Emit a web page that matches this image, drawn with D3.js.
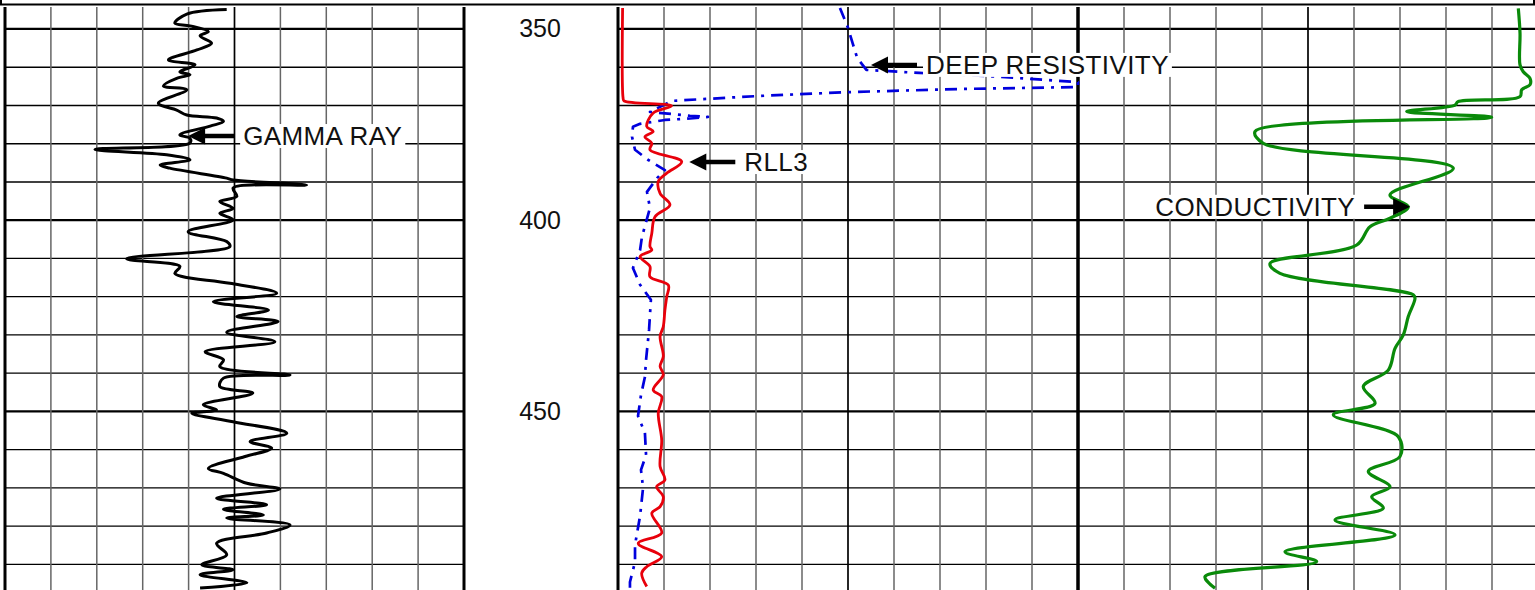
<!DOCTYPE html>
<html>
<head>
<meta charset="utf-8">
<script src="https://cdn.jsdelivr.net/npm/d3@7"></script>
<style>
  body { margin: 0; background: #fff; }
  svg { display: block; font-family: "Liberation Sans", Arial, sans-serif; }
</style>
</head>
<body>
<svg id="logSvg" width="1535" height="590"></svg>
<script>
// depth labels shown in the depth track
var depthLabels = [350, 400, 450];

// gamma ray (API), track 1
var grDepth = [344.9, 346.1, 348.5, 349.2, 350.7, 351.8, 353.7, 355.5, 358.1, 359.4, 361.2, 362.0, 362.9, 364.9, 365.9, 369.4, 371.2, 372.5, 373.3, 374.2, 375.4, 377.7, 378.6, 379.8, 381.5, 382.9, 384.2, 385.6, 386.4, 389.0, 389.5, 390.8, 391.6, 393.8, 395.1, 396.9, 398.2, 399.9, 403.0, 405.6, 406.9, 410.1, 412.1, 413.9, 414.8, 416.5, 419.1, 421.3, 423.5, 425.2, 426.5, 429.3, 431.8, 434.4, 436.5, 438.3, 440.5, 441.3, 443.5, 445.2, 448.3, 449.6, 450.5, 452.7, 455.7, 457.9, 459.6, 461.8, 464.9, 466.2, 468.8, 470.3, 472.7, 474.4, 475.6, 477.1, 477.9, 479.7, 481.8, 484.5, 487.5, 490.1, 491.4, 492.7, 494.8, 496.2];
var grValue = [48.3, 39.6, 37.0, 40.3, 44.3, 42.5, 45.0, 41.8, 35.6, 41.4, 38.1, 40.3, 37.4, 34.5, 39.6, 33.4, 37.4, 39.6, 46.1, 47.6, 44.7, 38.1, 40.3, 40.3, 19.6, 35.2, 40.3, 33.8, 35.9, 48.3, 49.7, 65.7, 49.7, 50.5, 46.8, 49.7, 46.8, 49.7, 39.9, 48.3, 49.0, 26.5, 38.1, 37.0, 38.8, 49.0, 59.2, 45.4, 57.4, 50.5, 59.5, 48.3, 58.8, 43.6, 47.6, 46.8, 62.1, 47.6, 46.8, 54.0, 43.2, 46.1, 40.7, 49.7, 61.4, 53.4, 58.1, 52.3, 44.3, 47.6, 52.7, 59.9, 46.1, 57.0, 47.6, 56.3, 48.3, 62.1, 57.0, 46.1, 48.3, 42.9, 49.7, 42.5, 52.7, 42.5];

// RLL3 (ohm-m), track 2
var rllDepth = [344.5, 368.0, 368.8, 370.1, 372.0, 375.5, 376.8, 378.2, 379.9, 381.6, 384.7, 387.7, 389.9, 393.0, 396.0, 399.1, 403.4, 406.9, 407.8, 409.5, 412.1, 414.8, 417.0, 420.0, 423.5, 427.8, 430.4, 435.6, 438.2, 440.4, 444.4, 446.1, 450.5, 457.5, 464.4, 467.9, 469.7, 472.3, 474.9, 476.6, 481.8, 484.5, 488.0, 490.6, 492.3, 495.8];
var rllValue = [0.20, 0.22, 0.26, 2.33, 1.53, 1.25, 1.53, 1.17, 1.47, 1.39, 2.77, 2.12, 1.75, 1.83, 2.26, 1.61, 1.47, 1.39, 1.47, 0.96, 1.39, 1.39, 2.19, 2.12, 2.04, 1.97, 1.83, 1.97, 1.83, 1.97, 1.53, 1.90, 1.75, 1.90, 1.83, 2.04, 1.68, 1.97, 1.83, 1.47, 1.90, 0.88, 1.90, 1.25, 1.03, 1.25];

// deep resistivity (ohm-m), track 2
var deepDepth = [344.5, 349.7, 353.7, 357.6, 360.7, 361.5, 362.5, 363.9, 365.2, 365.7, 366.5, 367.5, 368.8, 371.7, 372.7, 373.0, 373.5, 373.8, 374.8, 375.6, 378.2, 381.6, 384.2, 386.9, 389.0, 392.6, 396.8, 404.4, 407.8, 412.5, 416.9, 420.8, 428.7, 436.5, 441.0, 445.7, 451.2, 455.6, 461.4, 465.3, 470.0, 477.3, 484.9, 489.4, 494.6, 496.7];
var deepValue = [9.65, 10.0, 10.2, 10.4, 10.8, 13.1, 16.6, 20.0, 20.0, 14.9, 10.1, 6.2, 2.35, 1.39, 3.13, 3.91, 2.91, 2.04, 0.96, 0.65, 0.61, 0.74, 1.30, 2.04, 1.70, 1.26, 1.39, 1.04, 0.96, 0.65, 0.96, 1.43, 1.35, 1.22, 1.17, 1.0, 0.87, 1.17, 1.22, 1.0, 1.09, 0.96, 0.74, 0.74, 0.52, 0.52];

// conductivity (mmho/m), track 3
var condDepth = [344.6, 351.1, 359.4, 361.2, 362.9, 364.6, 365.9, 367.7, 369.0, 369.9, 371.6, 373.1, 376.8, 379.9, 386.4, 393.4, 396.5, 399.5, 401.7, 406.5, 411.3, 413.9, 419.5, 420.4, 425.2, 430.0, 433.5, 439.2, 443.5, 447.9, 450.9, 456.6, 461.8, 465.7, 469.7, 472.3, 475.3, 478.4, 482.3, 486.7, 489.3, 493.2, 496.2];
var condValue = [42.8, 39.1, 39.1, 32.0, 17.4, 17.4, 35.4, 39.1, 173.9, 180.4, 285.4, 100.7, 615.2, 597.2, 184.1, 321.8, 282.0, 321.8, 365.2, 394.1, 582.6, 560.9, 271.1, 267.4, 282.0, 292.8, 310.8, 325.4, 379.8, 354.3, 445.0, 303.7, 300.0, 368.9, 321.8, 361.5, 336.3, 441.3, 310.8, 550.0, 481.1, 723.9, 702.2];

// curve labels: name, track, depth and value of the arrow tip, arrow side
var labelText = ['GAMMA RAY', 'DEEP RESISTIVITY', 'RLL3', 'CONDUCTIVITY'];
var labelTrack = ['gr', 'res', 'res', 'cond'];
var labelDepth = [378.0, 359.4, 384.8, 396.5];
var labelValue = [39.9, 11.0, 3.1, 278];
var labelPointsLeft = [true, true, true, false];

var svg = d3.select('#logSvg'),
    width = +svg.attr('width'),
    height = +svg.attr('height'),
    plotTop = 6,
    gridTop = 7;

// depth runs down the page
var y = d3.scaleLinear().domain([344.0, 496.7]).range([plotTop, height]);

var tracks = {
  gr: d3.scaleLinear().domain([0, 100]).range([5, 464]),
  res: d3.scaleLinear().domain([0, 20]).range([618, 1078]),
  cond: d3.scaleLinear().domain([1000, 0]).range([1078, 1538])
};

var depthGrid = d3.range(350, 491, 10);

// grid for every track
Object.keys(tracks).forEach(function(key) {
  var x = tracks[key];
  var r = x.range();
  var dom = x.domain();
  var g = svg.append('g').attr('class', 'track ' + key);

  g.selectAll('line.h')
    .data(depthGrid)
    .enter()
    .append('line')
    .attr('class', 'h')
    .attr('x1', r[0]).attr('x2', r[1])
    .attr('y1', function(d) { return y(d); })
    .attr('y2', function(d) { return y(d); })
    .style('stroke', '#000')
    .style('stroke-width', function(d) { return d % 50 === 0 ? 2.2 : 1.4; });

  var steps = d3.range(0, 11);
  g.selectAll('line.v')
    .data(steps)
    .enter()
    .append('line')
    .attr('class', 'v')
    .attr('x1', function(i) { return x(dom[0] + i * (dom[1] - dom[0]) / 10); })
    .attr('x2', function(i) { return x(dom[0] + i * (dom[1] - dom[0]) / 10); })
    .attr('y1', gridTop).attr('y2', height)
    .style('stroke', function(i) { return (i === 0 || i === 10 || i === 5) ? '#000' : '#666'; })
    .style('stroke-width', function(i) { return (i === 0 || i === 10) ? 3 : (i === 5 ? 1.7 : 1.5); });
});

// header frame
svg.append('line')
  .attr('x1', 0).attr('x2', width).attr('y1', 4.5).attr('y2', 4.5)
  .style('stroke', '#000').style('stroke-width', 2);
svg.append('line')
  .attr('x1', 1).attr('x2', 1).attr('y1', 0).attr('y2', 5)
  .style('stroke', '#000').style('stroke-width', 2);
svg.append('line')
  .attr('x1', width - 1).attr('x2', width - 1).attr('y1', 0).attr('y2', 5)
  .style('stroke', '#000').style('stroke-width', 2);

// depth numbers
svg.selectAll('text.depth')
  .data(depthLabels)
  .enter()
  .append('text')
  .attr('class', 'depth')
  .attr('x', 540)
  .attr('y', function(d) { return y(d) + 8.5; })
  .attr('text-anchor', 'middle')
  .style('font-size', '25px')
  .style('fill', '#111')
  .text(function(d) { return d; });

// curves
function zip(depths, values) {
  return depths.map(function(d, i) { return { depth: d, value: values[i] }; });
}

var curves = [
  { track: 'gr', data: zip(grDepth, grValue), color: '#000', width: 3, dash: null, smooth: true },
  { track: 'res', data: zip(deepDepth, deepValue), color: '#0000dd', width: 2.7, dash: '12,7,3,7', smooth: false },
  { track: 'res', data: zip(rllDepth, rllValue), color: '#e8000b', width: 2.8, dash: null, smooth: true },
  { track: 'cond', data: zip(condDepth, condValue), color: '#0a8a0a', width: 3.2, dash: null, smooth: true }
];

curves.forEach(function(c) {
  var x = tracks[c.track];
  var line = d3.line()
    .x(function(d) { return x(d.value); })
    .y(function(d) { return y(d.depth); })
    .curve(c.smooth ? d3.curveCatmullRom.alpha(0.5) : d3.curveLinear);
  svg.append('path')
    .datum(c.data)
    .attr('d', line)
    .style('fill', 'none')
    .style('stroke', c.color)
    .style('stroke-width', c.width)
    .style('stroke-linejoin', 'round')
    .style('stroke-dasharray', c.dash);
});

// arrows and labels
var arrowLen = 46;
labelText.forEach(function(name, i) {
  var x = tracks[labelTrack[i]];
  var tipX = x(labelValue[i]);
  var tipY = y(labelDepth[i]);
  var dir = labelPointsLeft[i] ? 1 : -1;
  var g = svg.append('g').attr('class', 'label');

  var bg = g.append('rect').style('fill', '#fff');
  var txt = g.append('text')
    .attr('x', tipX + dir * (arrowLen + 9))
    .attr('y', tipY + 9)
    .attr('text-anchor', dir > 0 ? 'start' : 'end')
    .style('font-size', '26px')
    .style('letter-spacing', '0.4px')
    .style('fill', '#111')
    .text(name);
  var b = txt.node().getBBox();
  bg.attr('x', b.x - 3).attr('y', tipY - 12)
    .attr('width', b.width + 6).attr('height', 24);

  g.append('line')
    .attr('x1', tipX + dir * 12).attr('x2', tipX + dir * arrowLen)
    .attr('y1', tipY).attr('y2', tipY)
    .style('stroke', '#000').style('stroke-width', 4.5);
  g.append('path')
    .attr('d', 'M' + tipX + ',' + tipY +
      'L' + (tipX + dir * 17) + ',' + (tipY - 8.5) +
      'L' + (tipX + dir * 17) + ',' + (tipY + 8.5) + 'Z')
    .style('fill', '#000');
});
</script>
</body>
</html>
